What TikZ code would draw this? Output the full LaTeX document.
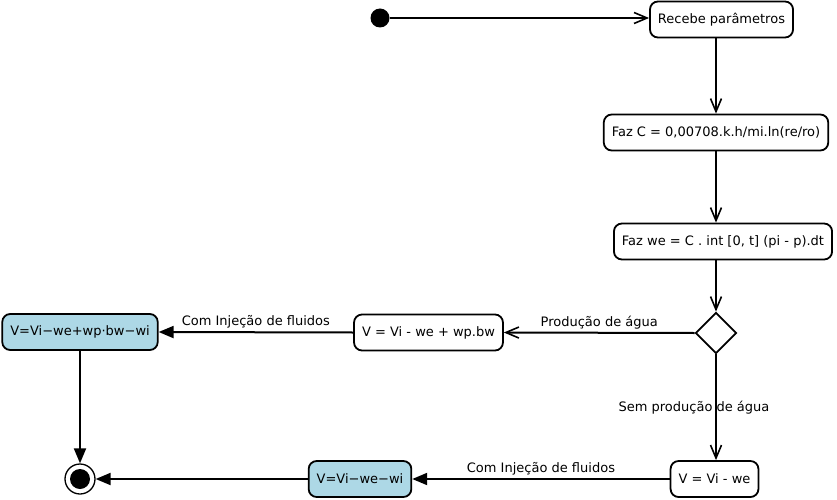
\documentclass[tikz,border=0pt]{standalone}
\usepackage{fontspec}
\setmainfont{DejaVu Sans}
\usepackage{tikz}
\usetikzlibrary{arrows.meta,positioning,shapes.geometric}
\definecolor{actblue}{HTML}{ADD8E6}

\begin{document}
\begin{tikzpicture}[x=1pt,y=-1pt,font=\fontsize{13}{15}\selectfont,
  act/.style={rectangle,rounded corners=8pt,draw,line width=1.8pt,inner xsep=8pt,minimum height=36pt},
  actb/.style={act,fill=actblue},
  dec/.style={diamond,draw,line width=1.8pt,minimum size=41pt,inner sep=0pt},
  ini/.style={circle,fill=black,minimum size=19pt,inner sep=0pt},
  fim/.style={circle,draw,line width=1.3pt,minimum size=30pt,inner sep=0pt,
    path picture={\fill (path picture bounding box.center) circle (10pt);}},
  ar/.style={-{Straight Barb[length=13pt,width=11pt,line width=1.6pt]},line width=2pt},
  arf/.style={-{Triangle[length=15pt,width=12pt]},line width=2pt},
  lbl/.style={inner sep=3pt}]
  \useasboundingbox (0,0) rectangle (837,500);
  \node[ini]  (ini)   at (380,18)    {};
  \node[act]  (rec)   at (721.5,19.5) {Recebe parâmetros};
  \node[act]  (fazc)  at (716,132.5) {Faz C = 0,00708.k.h/mi.ln(re/ro)};
  \node[act]  (fazwe) at (723,241.5) {Faz we = C . int [0, t] (pi - p).dt};
  \node[dec]  (dec)   at (716,333)   {};
  \node[act]  (vwp)   at (428.5,332.5) {V = Vi - we + wp.bw};
  \node[actb] (vwpwi) at (80,332)    {V=Vi\textminus we+wp·bw\textminus wi};
  \node[act]  (vwe)   at (714.5,479) {V = Vi - we};
  \node[actb] (vwi)   at (360,479)   {V=Vi\textminus we\textminus wi};
  \node[fim]  (fim)   at (80,479)    {};
  \draw[ar] (ini) -- (ini -| rec.west);
  \draw[ar] (rec.south -| fazc.north) -- (fazc.north);
  \draw[ar] (fazc.south) -- (fazwe.north -| fazc.south);
  \draw[ar] (fazwe.south -| dec.north) -- (dec.north);
  \draw[ar] (dec.west) -- (vwp.east) node[lbl,midway,above] {Produção de água};
  \draw[arf] (vwp.west) -- (vwpwi.east) node[lbl,midway,above] {Com Injeção de fluidos};
  \draw[arf] (vwpwi.south) -- (fim.north);
  \draw[ar] (dec.south) -- (dec.south |- vwe.north) node[lbl,midway,xshift=-22pt] {Sem produção de água};
  \draw[arf] (vwe.west) -- (vwi.east) node[lbl,midway,above] {Com Injeção de fluidos};
  \draw[arf] (vwi.west) -- (fim.east);
\end{tikzpicture}
\end{document}
